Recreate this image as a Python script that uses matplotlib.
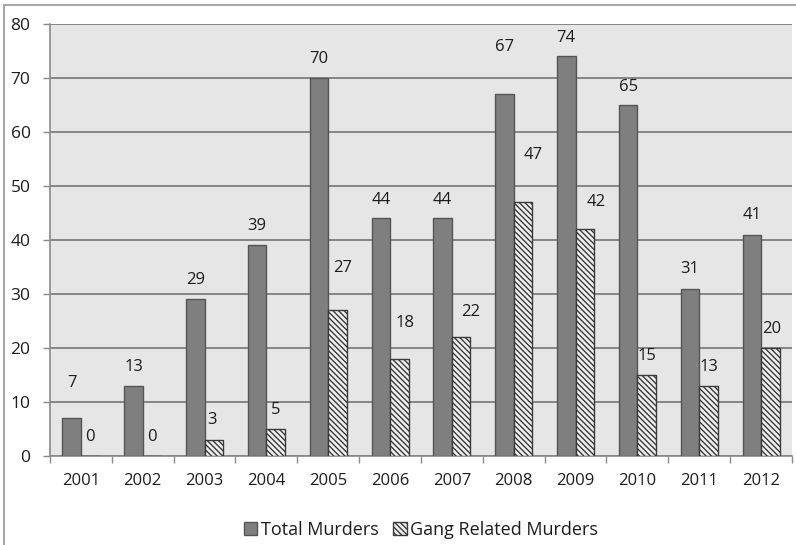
import matplotlib
matplotlib.use("Agg")
import matplotlib.pyplot as plt
import numpy as np
from matplotlib.patches import Rectangle, Patch

plt.rcParams['font.family'] = ['Open Sans', 'DejaVu Sans']
plt.rcParams['hatch.linewidth'] = 1.0
plt.rcParams['hatch.color'] = '#3a3a3a'

# данные
years = ['2001', '2002', '2003', '2004', '2005', '2006',
         '2007', '2008', '2009', '2010', '2011', '2012']
total_murders = [7, 13, 29, 39, 70, 44, 44, 67, 74, 65, 31, 41]
gang_murders = [0, 0, 3, 5, 27, 18, 22, 47, 42, 15, 13, 20]

# сдвиги подписей (в пикселях)
total_lbl_dy = [35, 19, 19, 19, 19, 18, 18, 47, 18, 18, 20, 20]
gang_lbl_dx = [0, 0, -2, 0, 5, 6, 9, 10, 11, 0, 0, 1]
gang_lbl_dy = [19, 19, 20, 19, 42, 36, 25, 47, 27, 19, 19, 19]

text_color = '#1c1c1c'
hatch = '\\' * 6

fig = plt.figure(figsize=(7.96, 5.45), dpi=100)
ax = fig.add_axes([50 / 796, 1 - 456 / 545, 742 / 796, 432 / 545])
ax.set_facecolor('#e6e6e6')

x = np.arange(len(years))
w = 0.3
b1 = ax.bar(x - w / 2, total_murders, w, color='#7f7f7f', edgecolor='#555555',
            linewidth=1.0, label='Total Murders', zorder=3)
b2 = ax.bar(x + w / 2, gang_murders, w, color='#f0f0f0', edgecolor='#3a3a3a',
            linewidth=1.0, hatch=hatch, label='Gang Related Murders', zorder=3)

# подписи значений
for i, rect in enumerate(b1):
    ax.annotate(str(total_murders[i]),
                (rect.get_x() + rect.get_width() / 2, rect.get_height()),
                xytext=(0, total_lbl_dy[i]), textcoords='offset pixels',
                ha='center', va='center', fontsize=12, color=text_color)
for i, rect in enumerate(b2):
    ax.annotate(str(gang_murders[i]),
                (rect.get_x() + rect.get_width() / 2, rect.get_height()),
                xytext=(gang_lbl_dx[i], gang_lbl_dy[i]), textcoords='offset pixels',
                ha='center', va='center', fontsize=12, color=text_color)

ax.set_xlim(-0.5, len(years) - 0.5)
ax.set_ylim(0, 80)
ax.set_yticks(range(0, 81, 10))
ax.set_xticks(x)
ax.set_xticklabels(years)
ax.set_xticks(np.arange(-0.5, len(years)), minor=True)

ax.tick_params(axis='x', which='major', length=0, pad=12, labelsize=12, labelcolor=text_color)
ax.tick_params(axis='x', which='minor', length=5, width=1, color='#8a8a8a', direction='out')
ax.tick_params(axis='y', length=5, width=1, color='#8a8a8a', pad=9, labelsize=12.5,
               labelcolor=text_color)

ax.grid(axis='y', color='#858585', linewidth=1.4, zorder=0)
ax.set_axisbelow(True)
for s in ['top', 'right']:
    ax.spines[s].set_visible(False)
ax.spines['left'].set_color('#8a8a8a')
ax.spines['bottom'].set_color('#8a8a8a')
ax.spines['left'].set_linewidth(1.2)
ax.spines['bottom'].set_linewidth(1.2)

handles = [Patch(facecolor='#7f7f7f', edgecolor='#555555'),
           Patch(facecolor='#f0f0f0', edgecolor='#3a3a3a', hatch=hatch)]
fig.legend(handles, ['Total Murders', 'Gang Related Murders'],
           loc='center', bbox_to_anchor=(421 / 796, 1 - 530 / 545),
           ncol=2, frameon=False, fontsize=13, handlelength=0.75, handleheight=0.75,
           handletextpad=0.2, columnspacing=0.8, labelcolor=text_color)

# рамка диаграммы
fig.patches.append(Rectangle((4 / 796, -0.1), 1.0, 1 - 5 / 545 + 0.1,
                             transform=fig.transFigure, fill=False,
                             edgecolor='#a8a8a8', linewidth=1.5))

fig.savefig('out.png', dpi=100)
